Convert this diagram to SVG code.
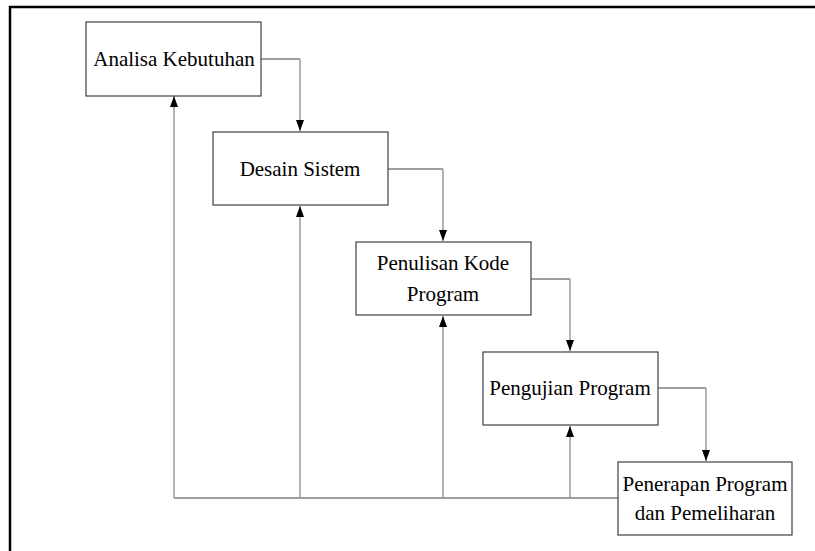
<svg xmlns="http://www.w3.org/2000/svg" width="815" height="551" viewBox="0 0 815 551">
<style>
.box{fill:#fff;stroke:#404040;stroke-width:1.2}
.t{font-family:"Liberation Serif","Times New Roman",serif;font-size:21px;fill:#000;text-anchor:middle}
.h{fill:none;stroke:#404040;stroke-width:1.2}
.v{fill:none;stroke:#a0a0a0;stroke-width:1.6}
</style>
<defs>
<marker id="ah" markerWidth="11" markerHeight="8" refX="11" refY="4" orient="auto" markerUnits="userSpaceOnUse" viewBox="0 0 11 8">
<path d="M0,0 L11,4 L0,8 z" fill="#000"/>
</marker>
</defs>
<rect x="10" y="7" width="812" height="560" fill="none" stroke="#000" stroke-width="2.5"/>
<g id="connectors">
<polyline class="h" points="261,59 300,59"/>
<polyline class="v" points="300,59 300,131" marker-end="url(#ah)"/>
<polyline class="h" points="388,169 443,169"/>
<polyline class="v" points="443,169 443,241" marker-end="url(#ah)"/>
<polyline class="h" points="531,279 570,279"/>
<polyline class="v" points="570,279 570,351" marker-end="url(#ah)"/>
<polyline class="h" points="658,388 706,388"/>
<polyline class="v" points="706,388 706,461" marker-end="url(#ah)"/>
<polyline class="h" points="618,498 174,498"/>
<polyline class="v" points="174,498 174,96" marker-end="url(#ah)"/>
<polyline class="v" points="300,498 300,206" marker-end="url(#ah)"/>
<polyline class="v" points="443,498 443,316" marker-end="url(#ah)"/>
<polyline class="v" points="570,498 570,426" marker-end="url(#ah)"/>
</g>
<g id="analisa">
<rect class="box" x="86" y="22" width="175" height="74"/>
<text class="t" x="174" y="66">Analisa Kebutuhan</text>
</g>
<g id="desain">
<rect class="box" x="213" y="132" width="175" height="73"/>
<text class="t" x="300" y="176">Desain Sistem</text>
</g>
<g id="penulisan">
<rect class="box" x="356" y="242" width="175" height="73"/>
<text class="t" x="443" y="270">Penulisan Kode</text>
<text class="t" x="443" y="301">Program</text>
</g>
<g id="pengujian">
<rect class="box" x="483" y="352" width="175" height="73"/>
<text class="t" x="570" y="395">Pengujian Program</text>
</g>
<g id="penerapan">
<rect class="box" x="618" y="462" width="174" height="73"/>
<text class="t" x="705" y="491">Penerapan Program</text>
<text class="t" x="705" y="520">dan Pemeliharan</text>
</g>
</svg>
